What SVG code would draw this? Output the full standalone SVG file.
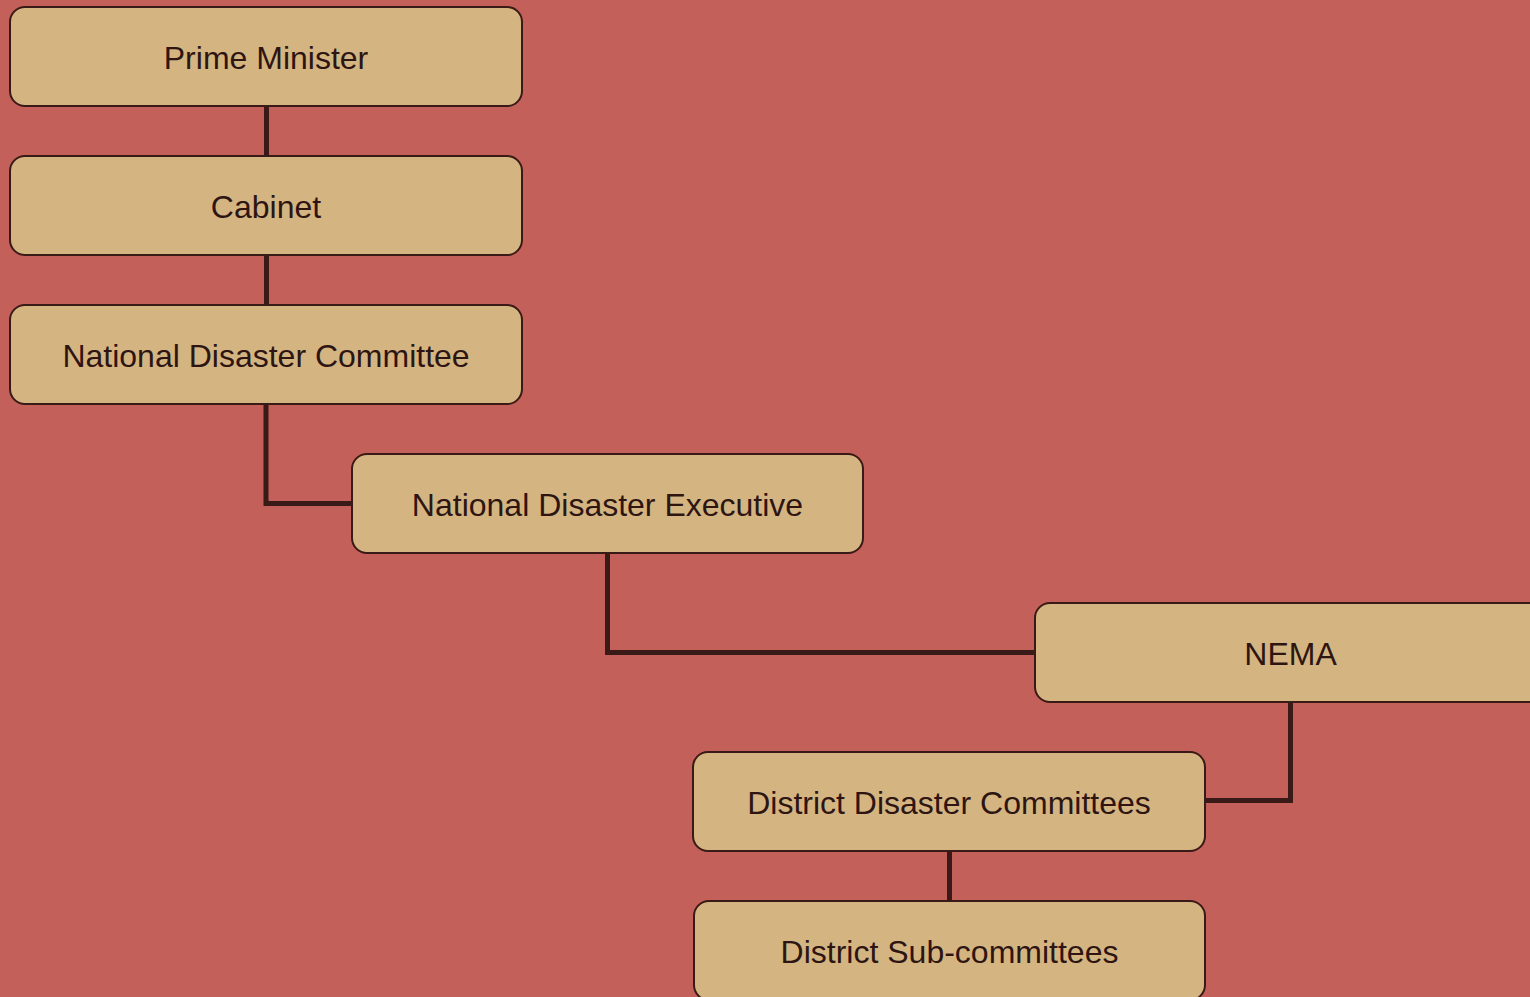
<svg xmlns="http://www.w3.org/2000/svg" width="1530" height="997" viewBox="0 0 1530 997">
<style>
.box{fill:#D4B582;stroke:#3A1A16;stroke-width:2}
.lbl{font-family:"Liberation Sans",Arial,sans-serif;font-size:32px;fill:#2E1512;text-anchor:middle}
.con{fill:none;stroke:#3A1A16;stroke-width:5}
</style>
<rect width="1530" height="997" fill="#C4605A"/>
<g id="connectors">
<path class="con" d="M266.5,106 V156"/>
<path class="con" d="M266.5,255 V305"/>
<path class="con" d="M266,404 V503.5 H352"/>
<path class="con" d="M607.5,553 V652.5 H1035"/>
<path class="con" d="M1290.5,702 V800.5 H1205"/>
<path class="con" d="M949.5,851 V901"/>
</g>
<g id="n1"><rect class="box" x="10" y="7" width="512" height="99" rx="15"/><text class="lbl" x="266" y="68.5">Prime Minister</text></g>
<g id="n2"><rect class="box" x="10" y="156" width="512" height="99" rx="15"/><text class="lbl" x="266" y="217.5">Cabinet</text></g>
<g id="n3"><rect class="box" x="10" y="305" width="512" height="99" rx="15"/><text class="lbl" x="266" y="366.5">National Disaster Committee</text></g>
<g id="n4"><rect class="box" x="352" y="454" width="511" height="99" rx="15"/><text class="lbl" x="607.5" y="515.5">National Disaster Executive</text></g>
<g id="n5"><rect class="box" x="1035" y="603" width="512" height="99" rx="15"/><text class="lbl" x="1290.5" y="664.5">NEMA</text></g>
<g id="n6"><rect class="box" x="693" y="752" width="512" height="99" rx="15"/><text class="lbl" x="949" y="813.5">District Disaster Committees</text></g>
<g id="n7"><rect class="box" x="694" y="901" width="511" height="99" rx="15"/><text class="lbl" x="949.5" y="962.5">District Sub-committees</text></g>
</svg>
